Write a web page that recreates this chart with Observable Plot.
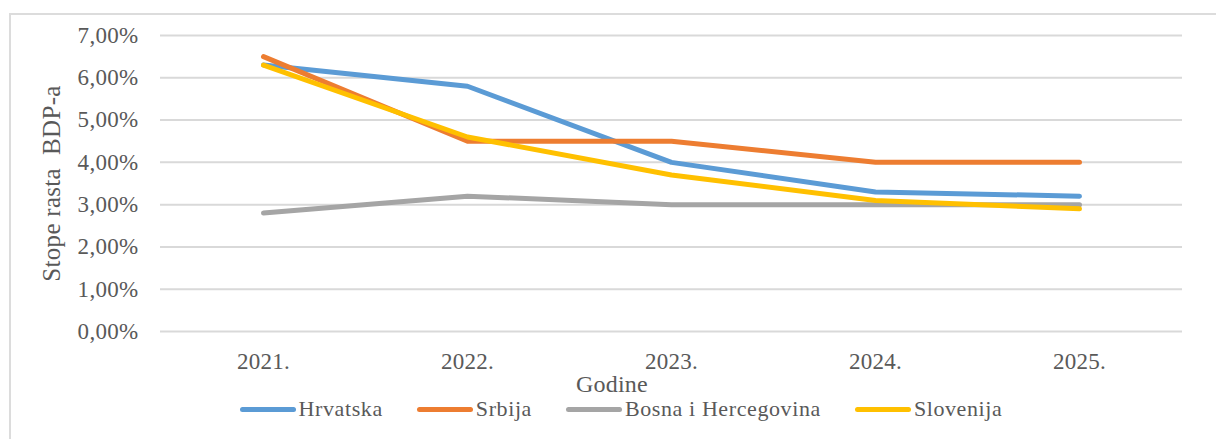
<!DOCTYPE html>
<html>
<head>
<meta charset="utf-8">
<script src="https://cdn.jsdelivr.net/npm/d3@7"></script>
<script src="https://cdn.jsdelivr.net/npm/@observablehq/plot@0.6"></script>
<style>
  html, body { margin: 0; padding: 0; background: #fff; width: 1216px; height: 439px; overflow: hidden; }
  #chart { position: relative; width: 1216px; height: 439px; font-family: "Liberation Serif", serif; color: #595959; }
  #frame { position: absolute; left: 9px; top: 13px; width: 1300px; height: 600px; border-left: 2px solid #dcdcdc; border-top: 2px solid #dcdcdc; pointer-events: none; }
  #plot { position: absolute; left: 0; top: 0; }
  #xtitle { position: absolute; left: 0; width: 1224px; top: 374px; text-align: center; font-size: 24px; line-height: 20px; letter-spacing: 0.2px; }
  #legend { position: absolute; left: 0; width: 1242px; top: 399px; display: flex; justify-content: center; font-size: 22px; line-height: 20px; letter-spacing: 0.6px; }
  .item { display: flex; align-items: center; margin: 0 17px; }
  .sw { width: 56px; height: 5px; border-radius: 3px; margin-right: 3px; }
</style>
</head>
<body>
<div id="chart">
  <div id="frame"></div>
  <div id="plot"></div>
  <div id="xtitle">Godine</div>
  <div id="legend"></div>
</div>
<script>
const years = ["2021.", "2022.", "2023.", "2024.", "2025."];
const seriesNames = ["Hrvatska", "Srbija", "Bosna i Hercegovina", "Slovenija"];
const colors = ["#5b9bd5", "#ed7d31", "#a5a5a5", "#ffc000"];
const hrvatska = [6.3, 5.8, 4.0, 3.3, 3.2];
const srbija = [6.5, 4.5, 4.5, 4.0, 4.0];
const bih = [2.8, 3.2, 3.0, 3.0, 3.0];
const slovenija = [6.3, 4.6, 3.7, 3.1, 2.9];
const yTicks = [0, 1, 2, 3, 4, 5, 6, 7];

const allValues = [hrvatska, srbija, bih, slovenija];
const data = [];
seriesNames.forEach((name, i) => {
  years.forEach((yr, j) => data.push({series: name, year: yr, value: allValues[i][j]}));
});

const fmt = d => d.toFixed(2).replace(".", ",") + "%";

const chart = Plot.plot({
  width: 1216,
  height: 382,
  marginLeft: 160,
  marginRight: 34,
  marginTop: 35,
  marginBottom: 51,
  style: {fontFamily: "Liberation Serif", fontSize: "23px", color: "#595959", background: "transparent", letterSpacing: "0.3px", overflow: "visible"},
  x: {type: "point", domain: years, padding: 0.5},
  y: {domain: [0, 7], ticks: yTicks},
  color: {domain: seriesNames, range: colors},
  marks: [
    Plot.gridY(yTicks, {stroke: "#d9d9d9", strokeOpacity: 1, strokeWidth: 2}),
    Plot.axisY(yTicks, {tickSize: 0, tickPadding: 22, tickFormat: fmt, label: null}),
    Plot.axisY([], {tickSize: 0, label: "Stope rasta  BDP-a", labelAnchor: "center", labelArrow: "none", labelOffset: 118, fontSize: 25}),
    Plot.axisX({tickSize: 0, tickPadding: 21, label: null}),
    Plot.line(data, {x: "year", y: "value", z: "series", stroke: "series", strokeWidth: 5, strokeLinecap: "round", strokeLinejoin: "round"})
  ]
});
document.getElementById("plot").appendChild(chart);

const legend = document.getElementById("legend");
seriesNames.forEach((name, i) => {
  const item = document.createElement("div");
  item.className = "item";
  const sw = document.createElement("span");
  sw.className = "sw";
  sw.style.background = colors[i];
  const label = document.createElement("span");
  label.textContent = name;
  item.appendChild(sw);
  item.appendChild(label);
  legend.appendChild(item);
});
</script>
</body>
</html>
